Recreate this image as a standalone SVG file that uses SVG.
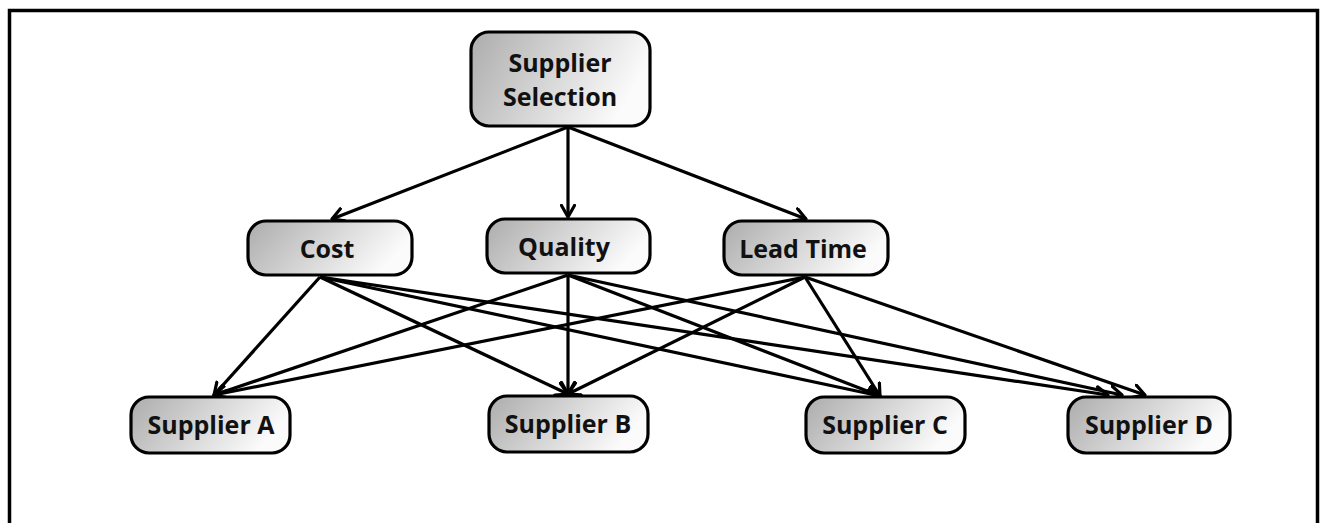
<svg xmlns="http://www.w3.org/2000/svg" width="1323" height="523" viewBox="0 0 1323 523">
<defs>
<linearGradient id="g" x1="0" y1="0" x2="1" y2="0.3">
<stop offset="0" stop-color="#acacac"/>
<stop offset="1" stop-color="#fbfbfb"/>
</linearGradient>
<marker id="ah" markerWidth="16" markerHeight="16" viewBox="0 0 16 16" refX="13" refY="8" orient="auto" markerUnits="userSpaceOnUse">
<path d="M1.5,1.5 L13,8 L1.5,14.5" fill="none" stroke="#000" stroke-width="3.2" stroke-linecap="round" stroke-linejoin="round"/>
</marker>
<style>
.n{fill:url(#g);stroke:#000;stroke-width:3.2}
.t{font-family:"Open Sans","Liberation Sans",sans-serif;font-weight:700;font-size:25px;fill:#111;text-anchor:middle;dominant-baseline:central}
.e{stroke:#000;stroke-width:3.2;fill:none;marker-end:url(#ah)}
</style>
</defs>
<rect x="0" y="0" width="1323" height="523" fill="#fff"/>
<rect x="9.5" y="10.5" width="1308" height="530" fill="none" stroke="#000" stroke-width="3.5"/>
<g id="connectors">
<line class="e" x1="568" y1="127" x2="332" y2="219"/>
<line class="e" x1="568" y1="127" x2="568" y2="217"/>
<line class="e" x1="568" y1="127" x2="806" y2="219"/>
<line class="e" x1="320" y1="277" x2="214" y2="395"/>
<line class="e" x1="320" y1="277" x2="568" y2="394"/>
<line class="e" x1="320" y1="277" x2="880" y2="396"/>
<line class="e" x1="320" y1="277" x2="1108" y2="395"/>
<line class="e" x1="568" y1="275" x2="214" y2="395"/>
<line class="e" x1="568" y1="275" x2="568" y2="394"/>
<line class="e" x1="568" y1="275" x2="880" y2="396"/>
<line class="e" x1="568" y1="275" x2="1122" y2="395"/>
<line class="e" x1="805" y1="277" x2="214" y2="395"/>
<line class="e" x1="805" y1="277" x2="568" y2="394"/>
<line class="e" x1="805" y1="277" x2="880" y2="396"/>
<line class="e" x1="805" y1="277" x2="1145" y2="395"/>
</g>
<g id="supplier-selection">
<rect class="n" x="471" y="32" width="179" height="94" rx="18"/>
<text class="t" x="560" y="62">Supplier</text>
<text class="t" x="560" y="96">Selection</text>
</g>
<g id="cost">
<rect class="n" x="248" y="221" width="164" height="54" rx="18"/>
<text class="t" x="327" y="248">Cost</text>
</g>
<g id="quality">
<rect class="n" x="487" y="219" width="163" height="54" rx="18"/>
<text class="t" x="564" y="246">Quality</text>
</g>
<g id="lead-time">
<rect class="n" x="724" y="221" width="164" height="54" rx="18"/>
<text class="t" x="803" y="248">Lead Time</text>
</g>
<g id="supplier-a">
<rect class="n" x="131" y="397" width="159" height="56" rx="18"/>
<text class="t" x="211" y="424">Supplier A</text>
</g>
<g id="supplier-b">
<rect class="n" x="489" y="396" width="159" height="56" rx="18"/>
<text class="t" x="568" y="423">Supplier B</text>
</g>
<g id="supplier-c">
<rect class="n" x="806" y="397" width="159" height="56" rx="18"/>
<text class="t" x="885" y="424">Supplier C</text>
</g>
<g id="supplier-d">
<rect class="n" x="1068" y="397" width="162" height="56" rx="18"/>
<text class="t" x="1149" y="424">Supplier D</text>
</g>
</svg>
